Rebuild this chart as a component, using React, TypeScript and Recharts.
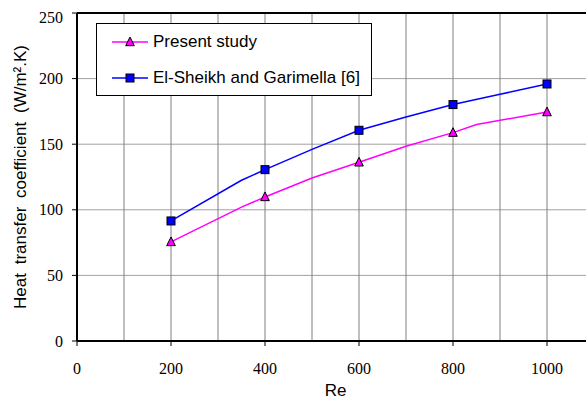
import { CartesianGrid, Line, LineChart, ReferenceLine, XAxis, YAxis } from 'recharts'

// Re values and heat transfer coefficients (W/m².K)
const presentRe = [200, 350, 400, 500, 600, 700, 800, 850, 1000]
const presentH = [75.5, 102, 109.8, 124.2, 136.2, 148.5, 158.8, 165, 174.5]
const sheikhRe = [200, 350, 400, 500, 600, 700, 800, 900, 1000]
const sheikhH = [91.5, 122.5, 130.6, 146.1, 160.6, 170.7, 180.2, 188, 195.9]

// points that carry a marker symbol
const markerRe = [200, 400, 600, 800, 1000]
const xTicks = [0, 200, 400, 600, 800, 1000]
const yTicks = [0, 50, 100, 150, 200, 250]
const xGrid = [100, 200, 300, 400, 500, 600, 700, 800, 900, 1000]

const PINK = '#FF00FF'
const BLUE = '#0000FF'
const SANS = '"Liberation Sans", Arial, sans-serif'
const SERIF = '"Liberation Serif", "Times New Roman", serif'

const presentData = presentRe.map((re, i) => ({ Re: re, h: presentH[i] }))
const sheikhData = sheikhRe.map((re, i) => ({ Re: re, h: sheikhH[i] }))

function Triangle({ cx, cy }: { cx: number; cy: number }) {
  return (
    <polygon
      points={`${cx},${cy - 5} ${cx - 4.3},${cy + 3.7} ${cx + 4.3},${cy + 3.7}`}
      fill={PINK}
      stroke="#000"
      strokeWidth={1}
    />
  )
}

function Square({ cx, cy }: { cx: number; cy: number }) {
  return <rect x={cx - 4} y={cy - 4} width={8} height={8} fill={BLUE} stroke="#000" strokeWidth={1} />
}

const triDot = (p: any) =>
  markerRe.includes(p.payload.Re) ? <Triangle key={p.index} cx={p.cx} cy={p.cy} /> : <g key={p.index} />
const sqDot = (p: any) =>
  markerRe.includes(p.payload.Re) ? <Square key={p.index} cx={p.cx} cy={p.cy} /> : <g key={p.index} />

const YTitle = ({ viewBox }: any) => {
  const x = 12
  const y = viewBox.y + viewBox.height / 2
  return (
    <text
      x={x}
      y={y}
      transform={`rotate(-90 ${x} ${y})`}
      textAnchor="middle"
      dominantBaseline="central"
      fontFamily={SANS}
      fontSize={17}
      wordSpacing={4}
      fill="#000"
    >
      Heat transfer coefficient (W/m².K)
    </text>
  )
}

function LegendBox() {
  const row = (label: string, color: string, marker: 'tri' | 'sq', top: number) => (
    <div style={{ position: 'absolute', left: 0, top: top - 10, height: 20, display: 'flex', alignItems: 'center' }}>
      <svg width={36} height={20} style={{ marginLeft: 15 }}>
        <line x1={0} y1={10} x2={36} y2={10} stroke={color} strokeWidth={1.5} />
        {marker === 'tri' ? <Triangle cx={18} cy={10} /> : <Square cx={18} cy={10} />}
      </svg>
      <span style={{ marginLeft: 5, fontFamily: SANS, fontSize: 17, color: '#000', whiteSpace: 'nowrap' }}>{label}</span>
    </div>
  )
  return (
    <div
      style={{
        position: 'absolute',
        left: 96,
        top: 23,
        width: 276,
        height: 73,
        boxSizing: 'border-box',
        border: '1.5px solid #000',
        background: '#fff',
      }}
    >
      {row('Present study', PINK, 'tri', 18)}
      {row('El-Sheikh and Garimella [6]', BLUE, 'sq', 54)}
    </div>
  )
}

export default function App() {
  // fixed frame the size of the window; the plot runs on past its right edge, as in the original
  return (
    <div
      style={{
        position: 'fixed',
        left: 0,
        top: 0,
        width: 586,
        height: 401,
        overflow: 'hidden',
        background: '#fff',
      }}
    >
      <div style={{ position: 'absolute', left: 8, top: 8 }}>
        <LineChart width={600} height={393} margin={{ top: 5, right: 14, bottom: 0, left: 0 }}>
          <CartesianGrid vertical={false} stroke="#a0a0a0" strokeWidth={1} />
          {xGrid.map((x) => (
            <ReferenceLine key={x} x={x} stroke="#808080" strokeWidth={1} />
          ))}
          <ReferenceLine y={250} stroke="#000" strokeWidth={2} />
          <XAxis
            dataKey="Re"
            type="number"
            domain={[0, 1100]}
            ticks={xTicks}
            allowDuplicatedCategory={false}
            height={60}
            axisLine={{ stroke: '#000', strokeWidth: 2 }}
            tickLine={{ stroke: '#000' }}
            tickSize={5}
            tickMargin={17}
            tick={{ fill: '#000', fontFamily: SERIF, fontSize: 16 }}
            label={{ value: 'Re', position: 'insideBottom', offset: 5, fill: '#000', fontFamily: SANS, fontSize: 17 }}
          />
          <YAxis
            type="number"
            domain={[0, 250]}
            ticks={yTicks}
            width={69}
            axisLine={{ stroke: '#000', strokeWidth: 2 }}
            tickLine={{ stroke: '#000' }}
            tickSize={5}
            tickMargin={9}
            tick={{ fill: '#000', fontFamily: SERIF, fontSize: 16 }}
            label={<YTitle />}
          />
          <Line
            data={presentData}
            dataKey="h"
            type="linear"
            stroke={PINK}
            strokeWidth={1.5}
            dot={triDot}
            activeDot={false}
            isAnimationActive={false}
          />
          <Line
            data={sheikhData}
            dataKey="h"
            type="linear"
            stroke={BLUE}
            strokeWidth={1.5}
            dot={sqDot}
            activeDot={false}
            isAnimationActive={false}
          />
        </LineChart>
      </div>
      <LegendBox />
    </div>
  )
}
